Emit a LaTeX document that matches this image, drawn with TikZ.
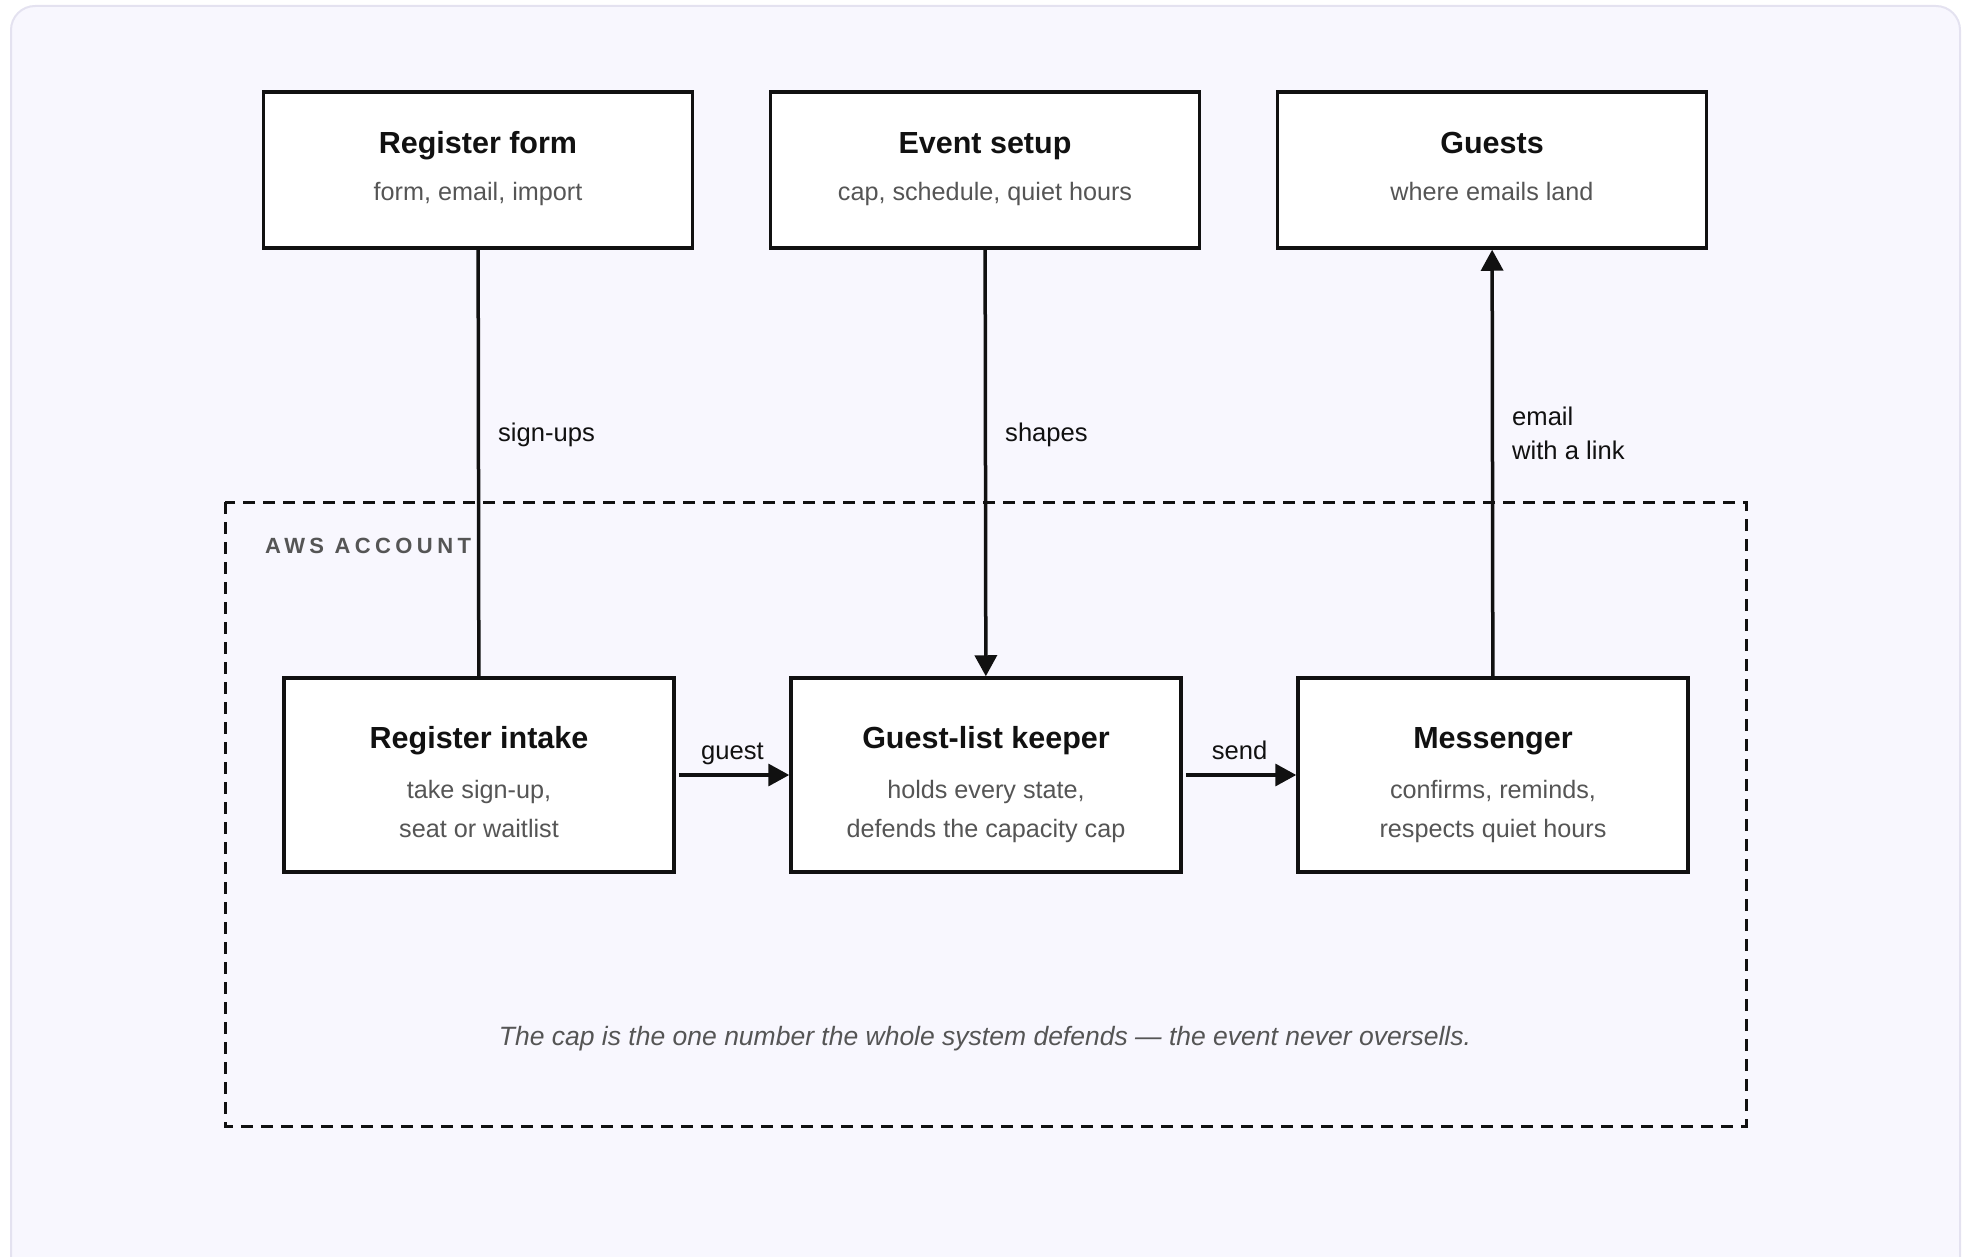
\documentclass[tikz,border=0pt]{standalone}
\usepackage{xcolor}
\usepackage{fontspec}
\setmainfont{Liberation Sans}
\usetikzlibrary{arrows.meta,positioning}

\definecolor{pagebg}{HTML}{F8F7FE}
\definecolor{pageedge}{HTML}{E4E2F0}
\definecolor{ink}{HTML}{111111}
\definecolor{subgray}{HTML}{555555}

\tikzset{
    box/.style={draw=ink, line width=3.5pt, fill=white, minimum width=429pt, minimum height=156pt, inner sep=0pt},
    lowbox/.style={box, minimum width=390pt, minimum height=194pt},
    ttl/.style={anchor=base, inner sep=0pt, text=ink, font=\fontsize{30.5}{34}\selectfont\bfseries},
    sub/.style={anchor=base, inner sep=0pt, text=subgray, font=\fontsize{25.2}{30}\selectfont},
    lbl/.style={inner sep=0pt, text=ink, font=\fontsize{25.6}{34}\selectfont},
    wire/.style={draw=ink, line width=3.5pt},
    arr/.style={wire, -{Triangle[length=21pt, width=22pt]}}
}

\begin{document}
\begin{tikzpicture}[x=1pt, y=-1pt]
    % Page
    \useasboundingbox (0,0) rectangle (1968,1257);
    \clip (0,0) rectangle (1968,1257);
    \draw[pageedge, fill=pagebg, line width=2pt, rounded corners=24pt] (11,6) rectangle (1960,1300);

    % AWS account
    \draw[ink, line width=3pt, dash pattern=on 12pt off 8pt] (225,502) rectangle (1746,1126);
    \node[anchor=base west, inner sep=0pt, text=subgray, font=\fontsize{22}{26}\selectfont\bfseries\addfontfeatures{LetterSpace=20}] (aws) at (265,553) {AWS ACCOUNT};

    % Outside
    \node[box] (regform) at (478,170) {};
    \node[ttl] (regformT) at (478,154) {Register form};
    \node[sub] (regformS) at (478,201) {form, email, import};

    \node[box] (evsetup) at (985,170) {};
    \node[ttl] (evsetupT) at (985,154) {Event setup};
    \node[sub] (evsetupS) at (985,201) {cap, schedule, quiet hours};

    \node[box] (guests) at (1492,170) {};
    \node[ttl] (guestsT) at (1492,154) {Guests};
    \node[sub] (guestsS) at (1492,201) {where emails land};

    % Services
    \node[lowbox] (intake) at (479,775) {};
    \node[ttl] (intakeT) at (479,748) {Register intake};
    \node[sub] (intakeS1) at (479,798) {take sign-up,};
    \node[sub] (intakeS2) at (479,837) {seat or waitlist};

    \node[lowbox] (keeper) at (986,775) {};
    \node[ttl] (keeperT) at (986,748) {Guest-list keeper};
    \node[sub] (keeperS1) at (986,798) {holds every state,};
    \node[sub] (keeperS2) at (986,837) {defends the capacity cap};

    \node[lowbox] (messenger) at (1493,775) {};
    \node[ttl] (messengerT) at (1493,748) {Messenger};
    \node[sub] (messengerS1) at (1493,798) {confirms, reminds,};
    \node[sub] (messengerS2) at (1493,837) {respects quiet hours};

    \node[inner sep=0pt, text=subgray, font=\fontsize{26.5}{30}\selectfont\itshape] (capnote) at (985,1039) {The cap is the one number the whole system defends --- the event never oversells.};

    % Connections
    \draw[wire] (regform) -- node[lbl, pos=0.435, anchor=west, xshift=18pt] (signups) {sign-ups} (intake);
    \draw[arr] (evsetup) -- node[lbl, pos=0.435, anchor=west, xshift=18pt] (shapes) {shapes} (keeper);
    \draw[arr] (messenger) -- node[lbl, pos=0.57, anchor=west, xshift=18pt, align=left] (emaillink) {email\\with a link} (guests);
    \draw[arr, shorten <=3pt] (intake) -- node[lbl, midway, anchor=base, yshift=16pt] (guestlbl) {guest} (keeper);
    \draw[arr, shorten <=3pt] (keeper) -- node[lbl, midway, anchor=base, yshift=16pt] (sendlbl) {send} (messenger);

\end{tikzpicture}
\end{document}
